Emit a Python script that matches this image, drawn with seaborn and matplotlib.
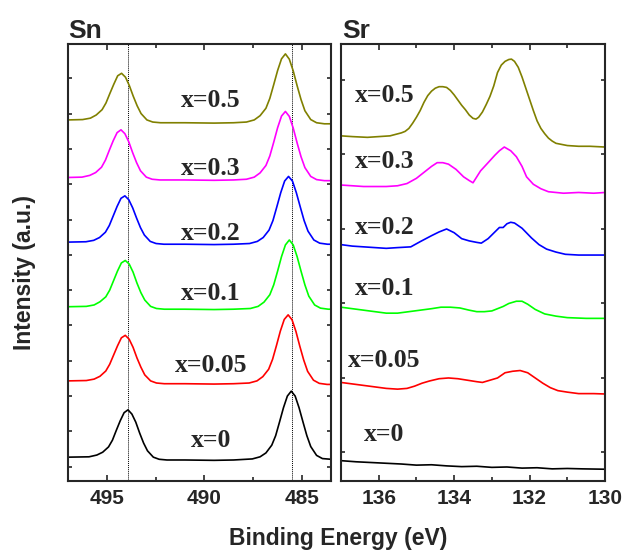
import matplotlib
matplotlib.use("Agg")
import matplotlib.pyplot as plt
from matplotlib.ticker import MultipleLocator, FixedLocator, NullFormatter
import pandas as pd
import seaborn as sns

# ---------------------------------------------------------------------------
# XPS core-level spectra (stacked, arbitrary units) for Sr-doped samples
# ---------------------------------------------------------------------------
COMPOSITIONS = ["x=0", "x=0.05", "x=0.1", "x=0.2", "x=0.3", "x=0.5"]
COLORS = ["#000000", "#ff0000", "#00ff00", "#0000ff", "#ff00ff", "#808000"]

# Sn 3d reference lines (eV)
SN_LINES = [493.9, 485.5]

# --- Sn 3d region ---------------------------------------------------------
SN_BE_X0 = [497.0, 495.92, 495.52, 495.22, 494.92, 494.72, 494.52, 494.32, 494.12, 493.92,
            493.72, 493.52, 493.32, 493.12, 492.92, 492.62, 492.32, 491.92, 491.0, 489.5,
            488.5, 487.54, 487.14, 486.84, 486.54, 486.34, 486.14, 485.94, 485.74, 485.54,
            485.34, 485.14, 484.94, 484.74, 484.54, 484.24, 483.94, 483.5]
SN_I_X0 = [1.27, 1.28, 1.33, 1.41, 1.56, 1.75, 2.03, 2.30, 2.53, 2.61,
           2.49, 2.26, 1.95, 1.67, 1.45, 1.27, 1.21, 1.19, 1.19, 1.18,
           1.19, 1.22, 1.28, 1.39, 1.61, 1.88, 2.27, 2.67, 3.00, 3.14,
           3.00, 2.67, 2.27, 1.88, 1.57, 1.32, 1.23, 1.21]

SN_BE_X005 = [497.0, 496.06, 495.66, 495.36, 495.06, 494.86, 494.66, 494.46, 494.26, 494.06,
              493.86, 493.66, 493.46, 493.26, 493.06, 492.76, 492.46, 492.06, 491.0, 489.5,
              488.5, 487.70, 487.30, 487.00, 486.70, 486.50, 486.30, 486.10, 485.90, 485.70,
              485.50, 485.30, 485.10, 484.90, 484.70, 484.40, 484.10, 483.70, 483.5]
SN_I_X005 = [3.43, 3.44, 3.48, 3.56, 3.71, 3.90, 4.16, 4.42, 4.65, 4.72,
             4.61, 4.38, 4.08, 3.82, 3.60, 3.43, 3.37, 3.35, 3.35, 3.34,
             3.35, 3.37, 3.43, 3.55, 3.76, 4.04, 4.43, 4.84, 5.17, 5.30,
             5.16, 4.83, 4.41, 4.02, 3.70, 3.45, 3.36, 3.33, 3.33]

SN_BE_X01 = [497.0, 496.06, 495.66, 495.36, 495.06, 494.86, 494.66, 494.46, 494.26, 494.06,
             493.86, 493.66, 493.46, 493.26, 493.06, 492.76, 492.46, 492.06, 491.0, 489.5,
             488.5, 487.64, 487.24, 486.94, 486.64, 486.44, 486.24, 486.04, 485.84, 485.64,
             485.44, 485.24, 485.04, 484.84, 484.64, 484.34, 484.04, 483.64, 483.5]
SN_I_X01 = [5.53, 5.54, 5.58, 5.67, 5.81, 6.00, 6.27, 6.54, 6.77, 6.84,
            6.74, 6.51, 6.20, 5.93, 5.72, 5.54, 5.48, 5.46, 5.46, 5.45,
            5.46, 5.48, 5.54, 5.66, 5.87, 6.15, 6.54, 6.95, 7.28, 7.42,
            7.28, 6.95, 6.54, 6.15, 5.83, 5.58, 5.49, 5.46, 5.46]

SN_BE_X02 = [497.0, 496.08, 495.68, 495.38, 495.08, 494.88, 494.68, 494.48, 494.28, 494.08,
             493.88, 493.68, 493.48, 493.28, 493.08, 492.78, 492.48, 492.08, 491.0, 489.5,
             488.5, 487.68, 487.28, 486.98, 486.68, 486.48, 486.28, 486.08, 485.88, 485.68,
             485.48, 485.28, 485.08, 484.88, 484.68, 484.38, 484.08, 483.68, 483.5]
SN_I_X02 = [7.36, 7.37, 7.41, 7.49, 7.64, 7.83, 8.10, 8.37, 8.60, 8.67,
            8.56, 8.33, 8.04, 7.77, 7.56, 7.38, 7.32, 7.30, 7.30, 7.29,
            7.30, 7.32, 7.38, 7.49, 7.70, 7.97, 8.36, 8.76, 9.09, 9.22,
            9.09, 8.76, 8.36, 7.97, 7.67, 7.42, 7.33, 7.30, 7.30]

SN_BE_X03 = [497.0, 496.28, 495.88, 495.58, 495.28, 495.08, 494.88, 494.68, 494.48, 494.28,
             494.08, 493.88, 493.68, 493.48, 493.28, 492.98, 492.68, 492.28, 491.0, 489.5,
             488.5, 487.84, 487.44, 487.14, 486.84, 486.64, 486.44, 486.24, 486.04, 485.84,
             485.64, 485.44, 485.24, 485.04, 484.84, 484.54, 484.24, 483.84, 483.5]
SN_I_X03 = [9.19, 9.20, 9.25, 9.33, 9.48, 9.68, 9.96, 10.23, 10.46, 10.54,
            10.43, 10.20, 9.89, 9.61, 9.38, 9.20, 9.14, 9.12, 9.12, 9.11,
            9.12, 9.14, 9.20, 9.32, 9.53, 9.80, 10.19, 10.60, 10.93, 11.06,
            10.92, 10.59, 10.17, 9.78, 9.47, 9.22, 9.13, 9.10, 9.10]

SN_BE_X05 = [497.0, 496.25, 495.85, 495.55, 495.25, 495.05, 494.85, 494.65, 494.45, 494.25,
             494.05, 493.85, 493.65, 493.45, 493.25, 492.95, 492.65, 492.25, 491.0, 489.5,
             488.5, 487.84, 487.44, 487.14, 486.84, 486.64, 486.44, 486.24, 486.04, 485.84,
             485.64, 485.44, 485.24, 485.04, 484.84, 484.54, 484.24, 483.84, 483.5]
SN_I_X05 = [10.82, 10.83, 10.87, 10.96, 11.11, 11.30, 11.57, 11.83, 12.07, 12.14,
            12.03, 11.79, 11.49, 11.22, 11.00, 10.82, 10.76, 10.74, 10.74, 10.73,
            10.74, 10.76, 10.82, 10.94, 11.15, 11.43, 11.82, 12.22, 12.55, 12.69,
            12.54, 12.21, 11.79, 11.40, 11.08, 10.83, 10.74, 10.71, 10.71]

# --- Sr 3d region ---------------------------------------------------------
SR_BE_X0 = [137.0, 136.6, 136.2, 135.8, 135.4, 135.0, 134.6, 134.2, 133.8, 133.4,
            133.0, 132.6, 132.2, 131.8, 131.4, 131.0, 130.6, 130.0]
SR_I_X0 = [0.89, 0.875, 0.865, 0.855, 0.845, 0.83, 0.835, 0.82, 0.81, 0.815,
           0.80, 0.805, 0.79, 0.795, 0.78, 0.785, 0.78, 0.775]

SR_BE_X005 = [137.0, 136.7, 136.4, 136.1, 135.8, 135.5, 135.25, 135.05, 134.85, 134.65,
              134.4, 134.15, 133.9, 133.65, 133.4, 133.25, 133.05, 132.85, 132.65, 132.45,
              132.25, 132.05, 131.85, 131.65, 131.45, 131.25, 131.0, 130.7, 130.3, 130.0]
SR_I_X005 = [1.94, 1.92, 1.90, 1.88, 1.86, 1.85, 1.86, 1.89, 1.93, 1.96,
             1.99, 2.00, 1.99, 1.97, 1.95, 1.94, 1.97, 2.00, 2.07, 2.09,
             2.10, 2.07, 2.00, 1.93, 1.87, 1.83, 1.81, 1.79, 1.79, 1.785]

SR_BE_X01 = [137.0, 136.7, 136.4, 136.1, 135.8, 135.5, 135.2, 134.9, 134.6, 134.35,
             134.1, 133.85, 133.6, 133.4, 133.2, 133.0, 132.85, 132.7, 132.55, 132.35,
             132.2, 132.05, 131.85, 131.6, 131.3, 131.0, 130.5, 130.0]
SR_I_X01 = [2.95, 2.93, 2.91, 2.89, 2.87, 2.87, 2.89, 2.91, 2.93, 2.95,
            2.95, 2.94, 2.91, 2.89, 2.89, 2.90, 2.93, 2.96, 3.00, 3.03,
            3.03, 2.99, 2.92, 2.86, 2.83, 2.81, 2.80, 2.80]

SR_BE_X02 = [137.0, 136.7, 136.4, 136.1, 135.8, 135.5, 135.15, 134.9, 134.6, 134.4,
             134.2, 134.0, 133.8, 133.6, 133.4, 133.28, 133.1, 132.92, 132.8, 132.7,
             132.6, 132.5, 132.4, 132.2, 131.95, 131.75, 131.55, 131.3, 131.05, 130.7,
             130.4, 130.0]
SR_I_X02 = [3.79, 3.77, 3.76, 3.75, 3.74, 3.75, 3.76, 3.83, 3.91, 3.96,
            4.00, 3.95, 3.87, 3.84, 3.82, 3.81, 3.87, 3.96, 4.02, 4.02,
            4.07, 4.09, 4.08, 4.01, 3.88, 3.79, 3.73, 3.69, 3.66, 3.65,
            3.65, 3.65]

SR_BE_X03 = [137.0, 136.7, 136.4, 136.1, 135.8, 135.5, 135.25, 135.0, 134.8, 134.6,
             134.45, 134.3, 134.15, 133.95, 133.75, 133.6, 133.5, 133.3, 133.1, 132.92,
             132.8, 132.67, 132.5, 132.35, 132.2, 132.08, 131.9, 131.7, 131.5, 131.1,
             130.7, 130.3, 130.0]
SR_I_X03 = [4.59, 4.58, 4.57, 4.57, 4.57, 4.58, 4.61, 4.68, 4.76, 4.84,
            4.89, 4.89, 4.87, 4.80, 4.70, 4.65, 4.62, 4.78, 4.89, 4.99,
            5.05, 5.10, 5.05, 4.97, 4.84, 4.70, 4.60, 4.54, 4.50, 4.48,
            4.49, 4.48, 4.49]

SR_BE_X05 = [137.0, 136.7, 136.3, 136.0, 135.7, 135.4, 135.3, 135.2, 135.1, 135.0,
             134.9, 134.8, 134.7, 134.6, 134.5, 134.4, 134.3, 134.2, 134.1, 134.0,
             133.9, 133.8, 133.7, 133.6, 133.5, 133.42, 133.35, 133.25, 133.15, 133.05,
             132.95, 132.85, 132.75, 132.65, 132.55, 132.48, 132.4, 132.3, 132.2, 132.1,
             132.0, 131.9, 131.8, 131.7, 131.6, 131.5, 131.4, 131.3, 131.0, 130.7,
             130.4, 130.0]
SR_I_X05 = [5.25, 5.24, 5.23, 5.24, 5.25, 5.29, 5.31, 5.35, 5.42, 5.50,
            5.59, 5.70, 5.79, 5.85, 5.89, 5.91, 5.91, 5.90, 5.86, 5.80,
            5.73, 5.66, 5.60, 5.53, 5.485, 5.475, 5.50, 5.57, 5.67, 5.78,
            5.92, 6.10, 6.20, 6.25, 6.275, 6.28, 6.25, 6.17, 6.04, 5.89,
            5.74, 5.59, 5.45, 5.35, 5.28, 5.22, 5.18, 5.15, 5.12, 5.11,
            5.11, 5.10]

SN_BE = [SN_BE_X0, SN_BE_X005, SN_BE_X01, SN_BE_X02, SN_BE_X03, SN_BE_X05]
SN_I = [SN_I_X0, SN_I_X005, SN_I_X01, SN_I_X02, SN_I_X03, SN_I_X05]
SR_BE = [SR_BE_X0, SR_BE_X005, SR_BE_X01, SR_BE_X02, SR_BE_X03, SR_BE_X05]
SR_I = [SR_I_X0, SR_I_X005, SR_I_X01, SR_I_X02, SR_I_X03, SR_I_X05]


def to_frame(be_lists, i_lists):
    parts = []
    for comp, be, inten in zip(COMPOSITIONS, be_lists, i_lists):
        parts.append(pd.DataFrame({"be": be, "intensity": inten, "comp": comp}))
    return pd.concat(parts, ignore_index=True)


sn_df = to_frame(SN_BE, SN_I)
sr_df = to_frame(SR_BE, SR_I)

sns.set_style("ticks")
plt.rcParams["font.family"] = ["Liberation Sans", "DejaVu Sans"]
plt.rcParams["font.weight"] = "bold"
plt.rcParams["axes.linewidth"] = 1.5

W, H = 627, 554
fig = plt.figure(figsize=(W / 100, H / 100), dpi=100)
ax_sn = fig.add_axes([68 / W, (H - 481) / H, 263 / W, 437 / H])
ax_sr = fig.add_axes([341 / W, (H - 481) / H, 264 / W, 437 / H])

palette = dict(zip(COMPOSITIONS, COLORS))
for ax, df in ((ax_sn, sn_df), (ax_sr, sr_df)):
    sns.lineplot(data=df, x="be", y="intensity", hue="comp", palette=palette,
                 estimator=None, sort=False, legend=False, linewidth=1.2, ax=ax)
    ax.set_xlabel("")
    ax.set_ylabel("")

for be in SN_LINES:
    ax_sn.axvline(be, color="black", linestyle=(0, (1, 1)), linewidth=0.7, zorder=0)

ax_sn.set_xlim(497.0, 483.5)
ax_sn.set_ylim(0.595, 12.97)
ax_sn.xaxis.set_major_locator(FixedLocator([495, 490, 485]))
ax_sn.xaxis.set_minor_locator(FixedLocator([492.5, 487.5]))
ax_sn.yaxis.set_major_locator(MultipleLocator(1))

ax_sr.set_xlim(137.0, 130.0)
ax_sr.set_ylim(0.617, 6.483)
ax_sr.xaxis.set_major_locator(MultipleLocator(2))
ax_sr.xaxis.set_minor_locator(MultipleLocator(1))
ax_sr.yaxis.set_major_locator(MultipleLocator(1))

for ax in (ax_sn, ax_sr):
    ax.yaxis.set_major_formatter(NullFormatter())
    ax.tick_params(axis="x", which="major", direction="in", length=4.5, width=1.2,
                   top=True, bottom=True, labelsize=15, pad=6)
    ax.tick_params(axis="x", which="minor", direction="in", length=3, width=1.2,
                   top=True, bottom=True)
    ax.tick_params(axis="y", which="major", direction="in", length=3, width=1.2,
                   left=True, right=True)
    for lab in ax.get_xticklabels():
        lab.set_fontweight("bold")
    for sp in ax.spines.values():
        sp.set_visible(True)
        sp.set_linewidth(1.5)

# composition labels
SN_LABEL_X = 0.544
SN_LABEL_Y = [0.078, 0.249, 0.414, 0.551, 0.700, 0.856]
SR_LABEL_X = 0.165
SR_LABEL_Y = [0.092, 0.262, 0.426, 0.565, 0.716, 0.868]
serif = dict(family=["Liberation Serif", "DejaVu Serif"], weight="bold", size=18.5)
for comp, ys, yr in zip(COMPOSITIONS, SN_LABEL_Y, SR_LABEL_Y):
    ax_sn.text(SN_LABEL_X, ys, comp, transform=ax_sn.transAxes, ha="center",
               va="baseline", fontdict=serif)
    ax_sr.text(SR_LABEL_X, yr, comp, transform=ax_sr.transAxes, ha="center",
               va="baseline", fontdict=serif)

# panel titles
ax_sn.text(0.0, 1 + 6 / 437, "Sn", transform=ax_sn.transAxes, ha="left",
           va="baseline", fontsize=19, fontweight="bold")
ax_sr.text(0.005, 1 + 6 / 437, "Sr", transform=ax_sr.transAxes, ha="left",
           va="baseline", fontsize=19, fontweight="bold")

fig.text(25 / W, (H - 273) / H, "Intensity (a.u.)", rotation=90, ha="center",
         va="center", fontsize=16.5, fontweight="bold")
fig.text(338 / W, (H - 545) / H, "Binding Energy (eV)", ha="center",
         va="baseline", fontsize=16.5, fontweight="bold")

fig.savefig("out.png", dpi=100)
